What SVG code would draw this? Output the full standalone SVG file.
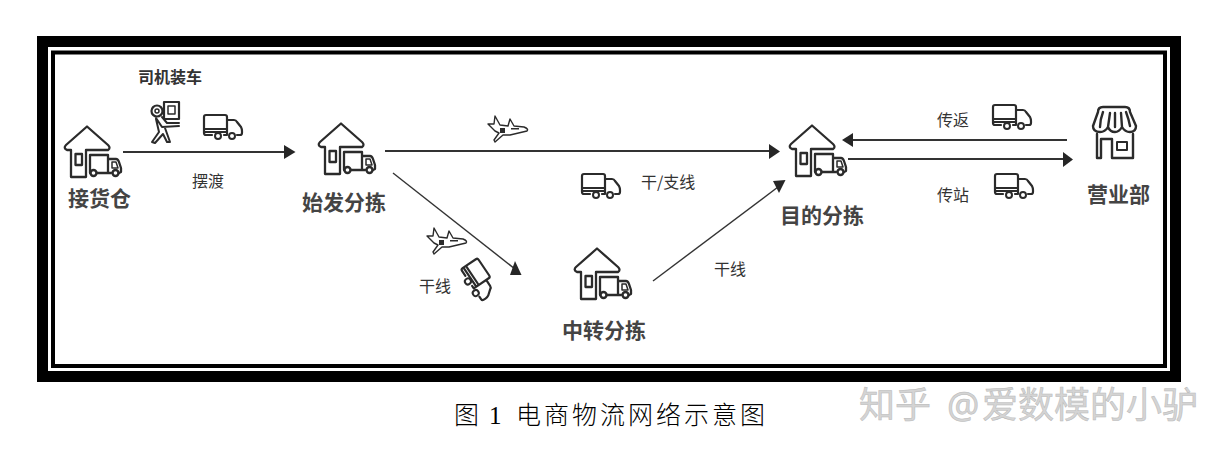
<svg xmlns="http://www.w3.org/2000/svg" width="1230" height="453" viewBox="0 0 1230 453">
<style>
.t{font-family:"Noto Sans CJK SC","Noto Sans",sans-serif;fill:#333}
.lab{font-size:16px;font-weight:400}
.big{font-size:21px;font-weight:700;fill:#444}
.ic{fill:none;stroke:#2b2b2b;stroke-linejoin:round;stroke-linecap:round}
.ln{fill:none;stroke:#333;stroke-width:2}
.hd{fill:#262626}
</style>
<defs>
<symbol id="house" overflow="visible">
<path class="ic" stroke-width="2.300" d="M-16,24H-20Q-24,22-21,19L0,0.500L21,19Q24,22 21,24H-1V51H-16ZM-11.500,28H-5V39H-11.500Z"/>
<path class="ic" stroke-width="2.300" d="M3,47V29H21V47H10M21,33H29Q31,33 32,36L34,42V46L32,47M24,47H21"/>
<path class="ic" stroke-width="1.500" d="M25,36H29L31,42H25Z"/>
<circle stroke-width="2.400" class="ic" cx="6.500" cy="47" r="3"/><circle stroke-width="2.400" class="ic" cx="28.500" cy="47" r="3"/>
</symbol>
<symbol id="truck" overflow="visible">
<path class="ic" stroke-width="2.200" d="M9,21H3Q1,21 1,19V3Q1,1 3,1H22Q24,1 24,3V21H21M24,6H31Q33,6 34,8L38,13Q39,15 39,17V19Q39,21 37,21H34M1,15H24M2,18H24"/>
<circle stroke-width="2" class="ic" fill="#fff" cx="15" cy="22" r="3"/><circle stroke-width="2" class="ic" cx="29" cy="22" r="3"/>
</symbol>
<symbol id="plane" overflow="visible">
<path class="ic" stroke-width="1.400" d="M0,9L6,9L7,1L12,10L20,11L22,4L26,11L36,12Q41,14 39,16L22,20L15,20L7,27L6,25L11,18L7,16Z"/>
<path d="M23,13h8v1.500h-8zM12,13h5v5h-5z" fill="#2b2b2b"/>
</symbol>
</defs>

<g id="frame">
<path fill-rule="evenodd" fill="#000" d="M37,36H1181V382H37ZM48,47V371H1170V47Z"/>
<rect x="53" y="52.500" width="1112" height="313.500" fill="#fff" stroke="#000" stroke-width="4"/>
</g>

<g id="connectors">
<path class="ln" d="M123,152H285"/><polygon class="hd" points="284,145 295.500,152 284,159"/>
<path class="ln" d="M385,151H770"/><polygon class="hd" points="769,144 780,151.500 769,159"/>
<path class="ln" stroke-width="1.300" d="M393,173L515,269" style="stroke-width:1.400"/><polygon class="hd" points="510,275 521.500,275 515,261"/>
<path class="ln" d="M653,281L778,187" style="stroke-width:1.400"/><polygon class="hd" points="773,181 785.500,180 779,193"/>
<path class="ln" d="M852,140H1067"/><polygon class="hd" points="853,133 842,140 853,147"/>
<path class="ln" d="M848,159H1064"/><polygon class="hd" points="1063,152 1073,159.500 1063,167"/>
</g>

<g id="node-jiehuocang"><use href="#house" x="87" y="126"/><text class="t big" x="68" y="206">接货仓</text></g>
<g id="node-shifa"><use href="#house" x="341" y="123"/><text class="t big" x="302" y="210">始发分拣</text></g>
<g id="node-zhongzhuan"><use href="#house" x="597" y="248"/><text class="t big" x="562" y="338">中转分拣</text></g>
<g id="node-mudi"><use href="#house" x="812" y="125"/><text class="t big" x="780" y="223">目的分拣</text></g>
<g id="node-yingyebu">
<path class="ic" stroke-width="2.400" d="M1098,112Q1098,107 1103,107H1125Q1130,107 1130,112L1136,126Q1136,132 1130,132Q1125,132 1122,127Q1119,132 1115,132Q1110,132 1108,127Q1105,132 1100,132Q1093,132 1093,126ZM1103,112Q1100,120 1100,127M1110,113L1108,127M1115,113V127M1121,113L1122,127M1126,112Q1129,120 1130,126M1097,134V158H1101V139H1112V158H1133V134"/>
<rect class="ic" stroke-width="2" x="1117" y="142" width="10" height="8"/>
<text class="t big" x="1087" y="202">营业部</text>
</g>

<g id="person">
<circle class="ic" stroke-width="2.200" cx="157" cy="111" r="5.500"/><circle class="ic" stroke-width="1.500" cx="157" cy="111" r="2"/>
<rect class="ic" stroke-width="2.200" x="164" y="102" width="15" height="17"/>
<rect class="ic" stroke-width="1.500" x="168" y="106" width="7" height="8"/>
<path class="ic" stroke-width="2" d="M156,118L162,127L179,126M179,123L167,123L162,117M156,119L159,132L152,142L155,143L163,134L167,142H170L165,128"/>
</g>
<g id="vehicles">
<use href="#truck" x="203" y="114"/>
<use href="#truck" x="581" y="173"/>
<use href="#truck" x="992" y="104"/>
<use href="#truck" x="994" y="173"/>
<use href="#truck" transform="translate(479,280) rotate(56) translate(-20,-12)"/>
<use href="#plane" x="488" y="115"/>
<use href="#plane" x="427" y="227"/>
</g>

<g id="labels">
<text class="t lab" x="138" y="83" style="font-size:16px;font-weight:700">司机装车</text>
<text class="t lab" x="192" y="187">摆渡</text>
<text class="t lab" x="641" y="188">干/支线</text>
<text class="t lab" x="419" y="292">干线</text>
<text class="t lab" x="714" y="275">干线</text>
<text class="t lab" x="937" y="126">传返</text>
<text class="t lab" x="937" y="201">传站</text>
</g>

<text id="caption" y="424" font-size="25" fill="#000" font-family="'Noto Sans CJK SC','Liberation Serif',serif" font-weight="300" letter-spacing="3"><tspan x="454">图</tspan><tspan x="489" font-family="'Liberation Serif',serif">1</tspan><tspan x="516">电商物流网络示意图</tspan></text>

<text id="watermark" y="418" font-size="36" fill="#d4d4d4" stroke="#b8b8b8" stroke-width="0.500" font-family="'Noto Sans CJK SC',sans-serif" font-weight="400"><tspan x="859">知乎</tspan><tspan x="947" font-family="'Noto Sans',sans-serif">@</tspan><tspan x="982">爱数模的小驴</tspan></text>
</svg>
